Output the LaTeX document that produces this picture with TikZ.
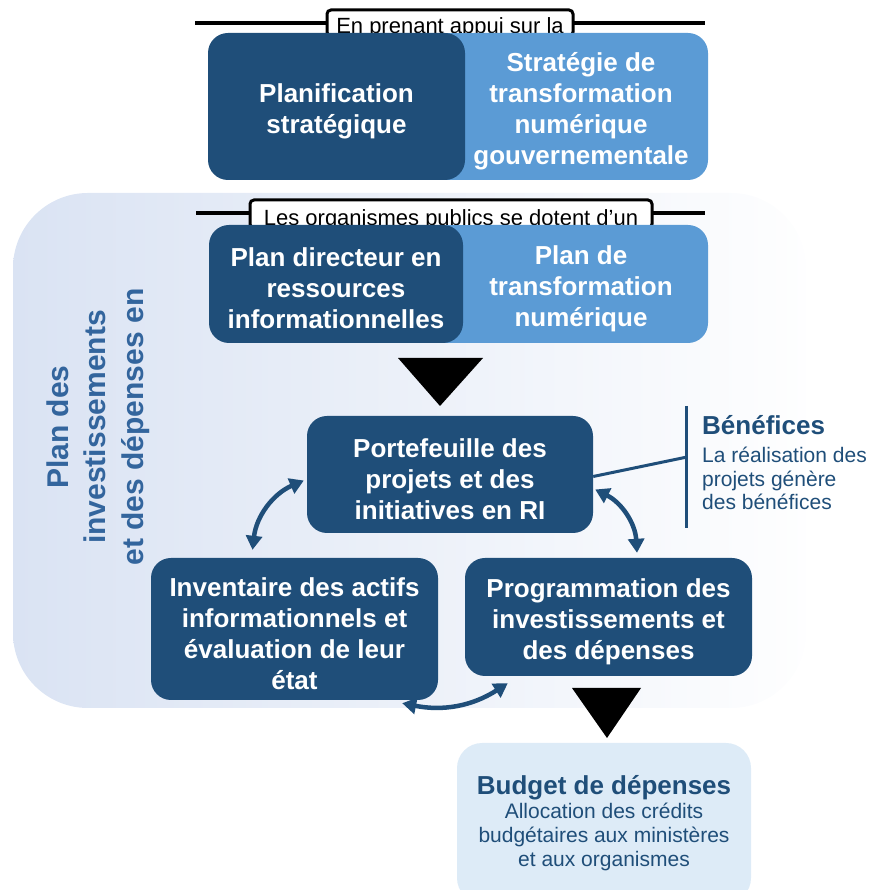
\documentclass[tikz,border=0pt]{standalone}
\usepackage{fontspec}
\setmainfont{Liberation Sans}
\usetikzlibrary{arrows.meta,calc}

\definecolor{navy}{HTML}{1F4E79}
\definecolor{sky}{HTML}{5B9BD5}
\definecolor{haze}{HTML}{DAE3F3}
\definecolor{pale}{HTML}{DDEBF7}
\definecolor{midblue}{HTML}{33659D}

% strut on the first line, so the text sits a bit lower in the box
\newcommand{\boxlead}{\rule{0pt}{28pt}}

\tikzset{
  box/.style={rounded corners=20pt, inner sep=0pt, align=center, text=white,
    font=\bfseries\fontsize{26}{31}\selectfont},
  darkbox/.style={box, fill=navy},
  lightbox/.style={box, fill=sky},
  tag/.style={draw=black, line width=3pt, fill=white, rounded corners=4pt,
    inner sep=0pt, font=\fontsize{22}{26}\selectfont},
  rule/.style={line width=4pt},
  cyclearrow/.style={navy, line width=4.5pt,
    {Triangle[length=14pt,width=16pt]}-{Triangle[length=14pt,width=16pt]}},
}

\begin{document}
\begin{tikzpicture}[x=1pt, y=1pt]
      \useasboundingbox (0,0) rectangle (871,890);
      \clip (0,0) rectangle (871,890);

      % Fond du plan
      \shade[left color=haze, right color=white!97!haze, rounded corners=75pt] (13,182) rectangle (806,697);

      % En prenant appui sur la
      \draw[rule] (195,867) -- (705,867);
      \node[tag, minimum width=246pt, text height=24pt, text depth=2pt, anchor=base] (tag1) at (450,856) {En prenant appui sur la};
      \node[lightbox, minimum width=254pt, minimum height=147pt] (strat) at (581,783.5) {\boxlead Stratégie de\\transformation\\numérique\\gouvernementale};
      \fill[sky] ([xshift=-20pt]strat.north west) rectangle ([xshift=20pt]strat.south west);
      \node[darkbox, minimum width=257pt, minimum height=147pt] (plan) at (336.5,783.5) {\boxlead Planification\\stratégique};

      % Les organismes publics se dotent d'un
      \draw[rule] (196,677) -- (705,677);
      \node[tag, minimum width=402pt, text height=26pt, text depth=2pt, anchor=base] (tag2) at (451,664) {Les organismes publics se dotent d’un};
      \node[lightbox, minimum width=254pt, minimum height=118pt] (ptn) at (581,606) {\boxlead Plan de\\transformation\\numérique};
      \fill[sky] ([xshift=-20pt]ptn.north west) rectangle ([xshift=20pt]ptn.south west);
      \node[darkbox, minimum width=254pt, minimum height=118pt] (pdri) at (336,606) {\boxlead Plan directeur en\\ressources\\informationnelles};

      % Triangles
      \fill (398,532) -- (483,532) -- (440,484) -- cycle;
      \fill (572,202) -- (641,202) -- (607,152) -- cycle;

      % Cycle
      \node[darkbox, minimum width=286pt, minimum height=117pt] (portf) at (450,415.5) {\boxlead Portefeuille des\\projets et des\\initiatives en RI};
      \node[darkbox, minimum width=287pt, minimum height=142pt] (invent) at (294.5,261) {\boxlead Inventaire des actifs\\informationnels et\\évaluation de leur\\état};
      \node[darkbox, minimum width=287pt, minimum height=118pt] (prog) at (608.5,273) {\boxlead Programmation des\\investissements et\\des dépenses};

      \draw[cyclearrow] ([shift={(-3pt,-6pt)}]portf.west) to[bend right=30] ([shift={(-42pt,8pt)}]invent.north);
      \draw[cyclearrow] ([shift={(2pt,-15pt)}]portf.east) to[bend left=30] ([shift={(28.5pt,5pt)}]prog.north);
      \draw[cyclearrow] ([shift={(-36pt,-3pt)}]invent.south east) to[bend right=22] ([shift={(43pt,-7pt)}]prog.south west);

      % Bénéfices
      \coordinate (bartop) at (686,484);
      \coordinate (barbot) at (686,362);
      \draw[navy, line width=3pt] (bartop) -- (barbot);
      \draw[navy, line width=3pt] ([yshift=-2pt]portf.east) -- ($(bartop)!0.42!(barbot)$);
      \node[anchor=north west, inner sep=0pt, align=left, text=navy, font=\fontsize{21}{23.5}\selectfont] (benef) at (702,475)
        {{\bfseries\fontsize{26}{29}\selectfont Bénéfices}\\[5pt]La réalisation des\\projets génère\\des bénéfices};

      % Budget de dépenses
      \node[fill=pale, rounded corners=25pt, minimum width=294pt, minimum height=160pt, inner sep=0pt, align=center, text=navy,
        font=\fontsize{21}{24}\selectfont] (budget) at (604,67)
        {{\bfseries\fontsize{26}{29}\selectfont Budget de dépenses}\\Allocation des crédits\\budgétaires aux ministères\\et aux organismes};

      % Titre vertical
      \node[rotate=90, align=center, text=midblue, font=\bfseries\fontsize{30}{37.5}\selectfont] (pide) at (98,463)
        {Plan des\\investissements\\et des dépenses en};
\end{tikzpicture}
\end{document}
